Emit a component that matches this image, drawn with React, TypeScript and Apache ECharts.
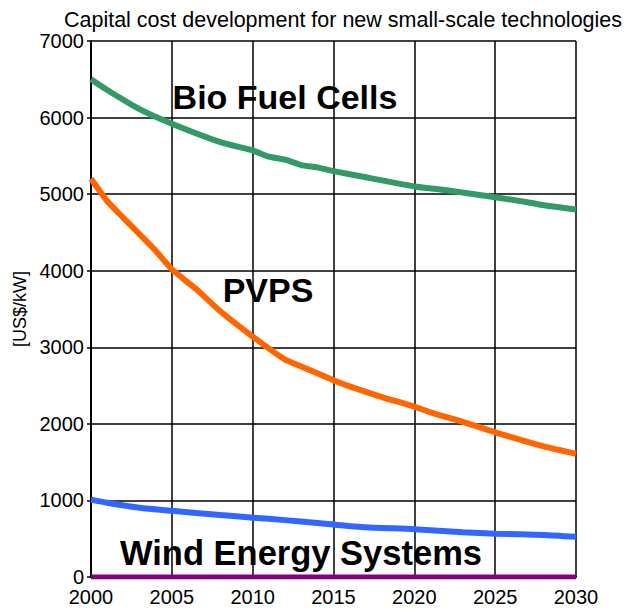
import React, { useEffect, useRef } from "react";
import * as echarts from "echarts";

const titleText = "Capital cost development for new small-scale technologies";
const yAxisName = "[US$/kW]";

const bioYears = [2000, 2001, 2003, 2005, 2008, 2010, 2011, 2012, 2013, 2014, 2015, 2017, 2018, 2020, 2022, 2025, 2027, 2028, 2030];
const bioValues = [6500, 6360, 6110, 5920, 5680, 5570, 5490, 5450, 5380, 5350, 5300, 5220, 5180, 5100, 5050, 4960, 4895, 4855, 4800];

const pvpsYears = [2000, 2001, 2002, 2004, 2005, 2006.5, 2008, 2010, 2012, 2013, 2015, 2016, 2018, 2020, 2021, 2023, 2025, 2028, 2030];
const pvpsValues = [5200, 4910, 4690, 4260, 4020, 3760, 3470, 3140, 2840, 2750, 2570, 2490, 2350, 2225, 2150, 2025, 1890, 1705, 1610];

const windYears = [2000, 2001, 2003, 2005, 2008, 2010, 2011, 2013, 2015, 2017, 2020, 2023, 2025, 2028, 2030];
const windValues = [1010, 970, 905, 865, 810, 775, 760, 725, 685, 650, 625, 585, 565, 550, 525];

const baseYears = [2000, 2030];
const baseValues = [0, 0];

const seriesLabels = ["Bio Fuel Cells", "PVPS", "Wind Energy Systems"];

const FONT = "'Liberation Sans', Arial, Helvetica, sans-serif";

function pairs(xs: number[], ys: number[]) {
  return xs.map((x, i) => [x, ys[i]]);
}

export default function App() {
  const ref = useRef<HTMLDivElement>(null);
  useEffect(() => {
    if (!ref.current) return;
    const chart = echarts.init(ref.current, null, { renderer: "svg" });
    const bigLabel = (text: string, x: number, y: number, size: number) => ({
      type: "text",
      x,
      y,
      z: 100,
      style: {
        text,
        fill: "#000",
        font: `bold ${size}px ${FONT}`,
        align: "center",
        verticalAlign: "middle",
      },
    });
    chart.setOption({
      animation: false,
      backgroundColor: "#fff",
      grid: { left: 91, right: 58, top: 41, bottom: 33, containLabel: false },
      xAxis: {
        type: "value",
        min: 2000,
        max: 2030,
        interval: 5,
        axisLine: { show: true, lineStyle: { color: "#000", width: 2 } },
        axisTick: { show: false },
        axisLabel: { color: "#000", fontSize: 20, fontFamily: FONT, margin: 10, formatter: (v: number) => String(v) },
        splitLine: { show: true, lineStyle: { color: "#000", width: 1.5 } },
      },
      yAxis: {
        type: "value",
        min: 0,
        max: 7000,
        interval: 1000,
        name: yAxisName,
        nameLocation: "middle",
        nameGap: 58,
        nameRotate: 90,
        nameTextStyle: { color: "#000", fontSize: 18, fontFamily: FONT },
        axisLine: { show: true, lineStyle: { color: "#000", width: 2 } },
        axisTick: { show: true, length: 4, lineStyle: { color: "#000", width: 1.5 } },
        axisLabel: { color: "#000", fontSize: 20, fontFamily: FONT, margin: 7, formatter: (v: number) => String(v) },
        splitLine: { show: true, lineStyle: { color: "#000", width: 1.5 } },
      },
      series: [
        {
          name: seriesLabels[0],
          type: "line",
          data: pairs(bioYears, bioValues),
          showSymbol: false,
          smooth: 0.2,
          lineStyle: { color: "#339966", width: 6 },
          z: 3,
        },
        {
          name: seriesLabels[1],
          type: "line",
          data: pairs(pvpsYears, pvpsValues),
          showSymbol: false,
          smooth: 0.2,
          lineStyle: { color: "#FF6600", width: 6 },
          z: 3,
        },
        {
          name: seriesLabels[2],
          type: "line",
          data: pairs(windYears, windValues),
          showSymbol: false,
          smooth: 0.2,
          lineStyle: { color: "#3366FF", width: 6 },
          z: 3,
        },
        {
          name: "base",
          type: "line",
          data: pairs(baseYears, baseValues),
          showSymbol: false,
          lineStyle: { color: "#800080", width: 5 },
          z: 4,
        },
      ],
      graphic: [
        {
          type: "text",
          x: 343,
          y: 20,
          style: {
            text: titleText,
            fill: "#000",
            font: `21.5px ${FONT}`,
            align: "center",
            verticalAlign: "middle",
          },
        },
        bigLabel(seriesLabels[0], 285, 97, 34),
        bigLabel(seriesLabels[1], 268, 290, 34),
        bigLabel(seriesLabels[2], 301, 553, 34.5),
      ],
    });
    return () => chart.dispose();
  }, []);
  return (
    <div
      ref={ref}
      style={{ position: "fixed", left: 0, top: 0, width: 634, height: 610, background: "#fff" }}
    />
  );
}
